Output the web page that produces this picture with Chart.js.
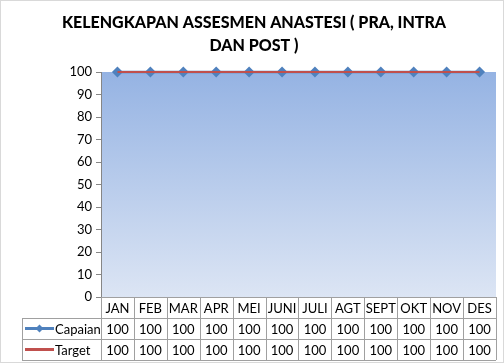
<!DOCTYPE html>
<html>
<head>
<meta charset="utf-8">
<script src="https://cdn.jsdelivr.net/npm/chart.js@4/dist/chart.umd.min.js"></script>
<style>
  html, body { margin: 0; padding: 0; background: #fff; }
  canvas { display: block; }
</style>
</head>
<body>
<canvas id="grafik" width="504" height="363"></canvas>
<script>
// data grafik
const bulan = ['JAN', 'FEB', 'MAR', 'APR', 'MEI', 'JUNI', 'JULI', 'AGT', 'SEPT', 'OKT', 'NOV', 'DES'];
const capaian = [100, 100, 100, 100, 100, 100, 100, 100, 100, 100, 100, 100];
const target = [100, 100, 100, 100, 100, 100, 100, 100, 100, 100, 100, 100];
const judul = ['KELENGKAPAN ASSESMEN ANASTESI ( PRA, INTRA', 'DAN POST )'];

const biru = '#4f81bd';
const merah = '#c0504d';
const garis = '#a0a0a0';
const huruf = 'Lato, Carlito, "Open Sans", sans-serif';

// fondo degradado del area del grafico
const fondoPlot = {
    id: 'fondoPlot',
    beforeDraw(chart) {
        const { ctx, chartArea: a } = chart;
        const g = ctx.createLinearGradient(0, a.top, 0, a.bottom);
        g.addColorStop(0, '#95b3e3');
        g.addColorStop(1, '#dce5f4');
        ctx.save();
        ctx.fillStyle = g;
        ctx.fillRect(a.left, a.top, a.right - a.left, a.bottom - a.top);
        ctx.restore();
    }
};

// tabel data di bawah grafik + judul
const tabelData = {
    id: 'tabelData',
    afterDraw(chart) {
        const { ctx, chartArea: a } = chart;
        const x = chart.scales.x;
        const half = (a.right - a.left) / bulan.length / 2;
        const y0 = a.bottom, y1 = y0 + 21, y2 = y1 + 21, y3 = y2 + 21;
        const kiri = 22;

        ctx.save();
        ctx.strokeStyle = garis;
        ctx.lineWidth = 1;
        ctx.beginPath();
        // garis horizontal
        ctx.moveTo(a.left, y0 + 0.5); ctx.lineTo(a.right, y0 + 0.5);
        ctx.moveTo(kiri, y1 + 0.5); ctx.lineTo(a.right, y1 + 0.5);
        ctx.moveTo(kiri, y2 + 0.5); ctx.lineTo(a.right, y2 + 0.5);
        ctx.moveTo(kiri, y3 + 0.5); ctx.lineTo(a.right, y3 + 0.5);
        // garis vertikal
        ctx.moveTo(kiri + 0.5, y1); ctx.lineTo(kiri + 0.5, y3);
        ctx.moveTo(Math.round(a.left) + 0.5, y0); ctx.lineTo(Math.round(a.left) + 0.5, y3);
        bulan.forEach((b, i) => {
            const xr = Math.round(x.getPixelForValue(i) + half) + 0.5;
            ctx.moveTo(xr, y0); ctx.lineTo(xr, y3);
        });
        ctx.stroke();

        ctx.fillStyle = '#000';
        ctx.font = '13px ' + huruf;
        ctx.textAlign = 'center';
        ctx.textBaseline = 'middle';
        bulan.forEach((b, i) => {
            const cx = x.getPixelForValue(i);
            ctx.fillText(b, cx, (y0 + y1) / 2 + 1);
            ctx.fillText(String(capaian[i]), cx, (y1 + y2) / 2 + 1);
            ctx.fillText(String(target[i]), cx, (y2 + y3) / 2 + 1);
        });

        // legenda di tabel
        const ly1 = (y1 + y2) / 2, ly2 = (y2 + y3) / 2;
        ctx.lineWidth = 3;
        ctx.strokeStyle = biru;
        ctx.beginPath(); ctx.moveTo(25, ly1); ctx.lineTo(54, ly1); ctx.stroke();
        ctx.fillStyle = biru;
        ctx.beginPath();
        ctx.moveTo(39.5, ly1 - 4); ctx.lineTo(43.5, ly1); ctx.lineTo(39.5, ly1 + 4); ctx.lineTo(35.5, ly1);
        ctx.closePath(); ctx.fill();
        ctx.strokeStyle = merah;
        ctx.beginPath(); ctx.moveTo(25, ly2); ctx.lineTo(54, ly2); ctx.stroke();

        ctx.fillStyle = '#000';
        ctx.textAlign = 'left';
        ctx.fillText('Capaian', 55, ly1 + 1);
        ctx.fillText('Target', 55, ly2 + 1);

        // judul
        ctx.font = '900 16px ' + huruf;
        ctx.textAlign = 'center';
        ctx.fillText(judul[0], 254, 23);
        ctx.fillText(judul[1], 254, 46);

        // bingkai
        ctx.lineWidth = 1;
        ctx.strokeStyle = '#d9d9d9';
        ctx.strokeRect(0.5, 0.5, chart.width - 1, chart.height - 1);
        ctx.restore();
    }
};

new Chart(document.getElementById('grafik'), {
    type: 'line',
    data: {
        labels: bulan,
        datasets: [
            {
                label: 'Capaian',
                data: capaian,
                borderColor: biru,
                backgroundColor: biru,
                borderWidth: 2.5,
                pointStyle: 'rectRot',
                pointRadius: 5.5,
                pointBorderWidth: 0,
                clip: false,
                order: 2
            },
            {
                label: 'Target',
                data: target,
                borderColor: merah,
                backgroundColor: merah,
                borderWidth: 2,
                pointRadius: 0,
                clip: false,
                order: 1
            }
        ]
    },
    options: {
        responsive: false,
        animation: false,
        layout: { padding: { top: 72, right: 8, bottom: 66, left: 0 } },
        plugins: {
            legend: { display: false },
            title: { display: false },
            tooltip: { enabled: false }
        },
        scales: {
            x: {
                display: false,
                offset: true
            },
            y: {
                min: 0,
                max: 100,
                afterFit(s) { s.width = 101; },
                ticks: {
                    stepSize: 10,
                    color: '#000',
                    padding: 4,
                    font: { family: huruf, size: 13 }
                },
                grid: {
                    drawOnChartArea: false,
                    drawTicks: true,
                    tickLength: 5,
                    color: '#868686'
                },
                border: { color: '#868686', width: 1 }
            }
        }
    },
    plugins: [fondoPlot, tabelData]
});
</script>
</body>
</html>
